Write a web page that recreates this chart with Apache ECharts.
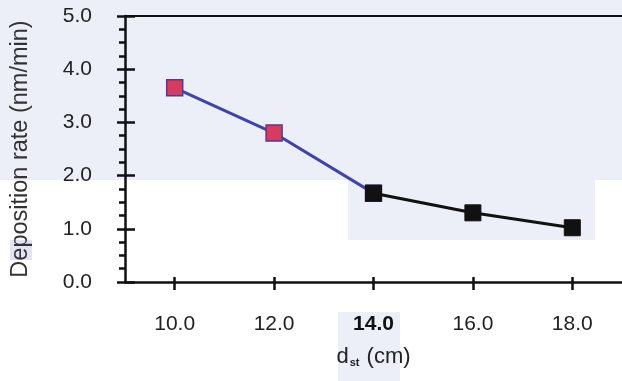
<!DOCTYPE html>
<html>
<head>
<meta charset="utf-8">
<script src="https://cdn.jsdelivr.net/npm/echarts@6/dist/echarts.min.js"></script>
<style>
  html, body { margin: 0; padding: 0; background: #fff; }
  #chart { width: 622px; height: 381px; }
</style>
</head>
<body>
<div id="chart"></div>
<script>
// 数据
const dist = [10, 12, 14, 16, 18];
const rate = [3.65, 2.8, 1.67, 1.3, 1.02];
const xTicks = [10, 12, 14, 16, 18];
// 前两个点为蓝线/红色方块，后面为黑色
const splitAt = 2;

const blueData = dist.slice(0, splitAt + 1).map((d, i) => [d, rate[i]]);
const blackData = dist.slice(splitAt).map((d, i) => [d, rate[i + splitAt]]);

const font = 'Liberation Sans, Arial, sans-serif';
const tint = '#eceef8';

let myChart = echarts.init(document.getElementById('chart'));
let option = {
  animation: false,
  backgroundColor: '#fff',
  // 扫描底色
  graphic: [
    { type: 'rect', z: -10, shape: { x: 0, y: 0, width: 622, height: 180 }, style: { fill: tint } },
    { type: 'rect', z: -10, shape: { x: 348, y: 180, width: 247, height: 60 }, style: { fill: tint } },
    { type: 'rect', z: -10, shape: { x: 338, y: 312, width: 62, height: 69 }, style: { fill: tint } },
    { type: 'rect', z: -10, shape: { x: 10, y: 240, width: 22, height: 20 }, style: { fill: '#e2e4f4' } },
  ],
  grid: {
    left: 125,
    right: 0,
    top: 16,
    bottom: 99,
  },
  xAxis: [
    {
      type: 'value',
      min: 9,
      max: 19,
      position: 'bottom',
      name: '{d|d}{s|st}{d| (cm)}',
      nameLocation: 'middle',
      nameGap: 63,
      nameTextStyle: {
        rich: {
          d: { fontSize: 22, color: '#222', fontFamily: font },
          s: { fontSize: 11, color: '#222', fontFamily: font, fontWeight: 'bold', verticalAlign: 'bottom', padding: [12, 1, 0, 1] },
        },
      },
      axisLine: { show: true, onZero: false, lineStyle: { color: '#111', width: 2.5 } },
      axisTick: { show: true, inside: false, length: 8, customValues: xTicks, lineStyle: { color: '#111', width: 2.5 } },
      axisLabel: {
        customValues: xTicks,
        margin: 32,
        fontSize: 21,
        color: '#222',
        fontFamily: font,
        formatter: (v) => (v === 14 ? '{b|' + v.toFixed(1) + '}' : v.toFixed(1)),
        rich: {
          b: { fontSize: 21, fontWeight: 'bold', color: '#111', fontFamily: font },
        },
      },
      splitLine: { show: false },
    },
    {
      // 轴内侧刻度
      type: 'value',
      min: 9,
      max: 19,
      position: 'bottom',
      axisLine: { show: false },
      axisTick: { show: true, inside: true, length: 5, customValues: xTicks, lineStyle: { color: '#111', width: 2.5 } },
      axisLabel: { show: false },
      splitLine: { show: false },
    },
    {
      // 顶部边线
      type: 'value',
      min: 9,
      max: 19,
      position: 'top',
      axisLine: { show: true, onZero: false, lineStyle: { color: '#111', width: 2 } },
      axisTick: { show: false },
      axisLabel: { show: false },
      splitLine: { show: false },
    },
  ],
  yAxis: [
    {
      type: 'value',
      min: 0,
      max: 5,
      interval: 1,
      name: 'Deposition rate (nm/min)',
      nameLocation: 'middle',
      nameGap: 92,
      nameTextStyle: { fontSize: 23.5, color: '#333', fontFamily: font },
      axisLine: { show: true, onZero: false, lineStyle: { color: '#111', width: 2.5 } },
      axisTick: { show: true, inside: false, length: 8, lineStyle: { color: '#111', width: 2.5 } },
      minorTick: { show: true, splitNumber: 4, length: 6, lineStyle: { color: '#111', width: 2.5 } },
      axisLabel: {
        margin: 33,
        fontSize: 21,
        color: '#222',
        fontFamily: font,
        formatter: (v) => v.toFixed(1),
      },
      splitLine: { show: false },
    },
    {
      type: 'value',
      min: 0,
      max: 5,
      interval: 1,
      position: 'left',
      axisLine: { show: false },
      axisTick: { show: true, inside: true, length: 10, lineStyle: { color: '#111', width: 2.5 } },
      axisLabel: { show: false },
      splitLine: { show: false },
    },
  ],
  series: [
    {
      type: 'line',
      data: blueData,
      symbol: 'rect',
      symbolSize: 16,
      showAllSymbol: true,
      lineStyle: { color: '#3e44a8', width: 3 },
      itemStyle: { color: '#d63b62', borderColor: '#5b3a82', borderWidth: 1.5 },
      z: 2,
    },
    {
      type: 'line',
      data: blackData,
      symbol: 'rect',
      symbolSize: 16,
      lineStyle: { color: '#111', width: 3 },
      itemStyle: { color: '#111', borderColor: '#111', borderWidth: 1 },
      z: 3,
    },
  ],
};
myChart.setOption(option, true);
</script>
</body>
</html>
